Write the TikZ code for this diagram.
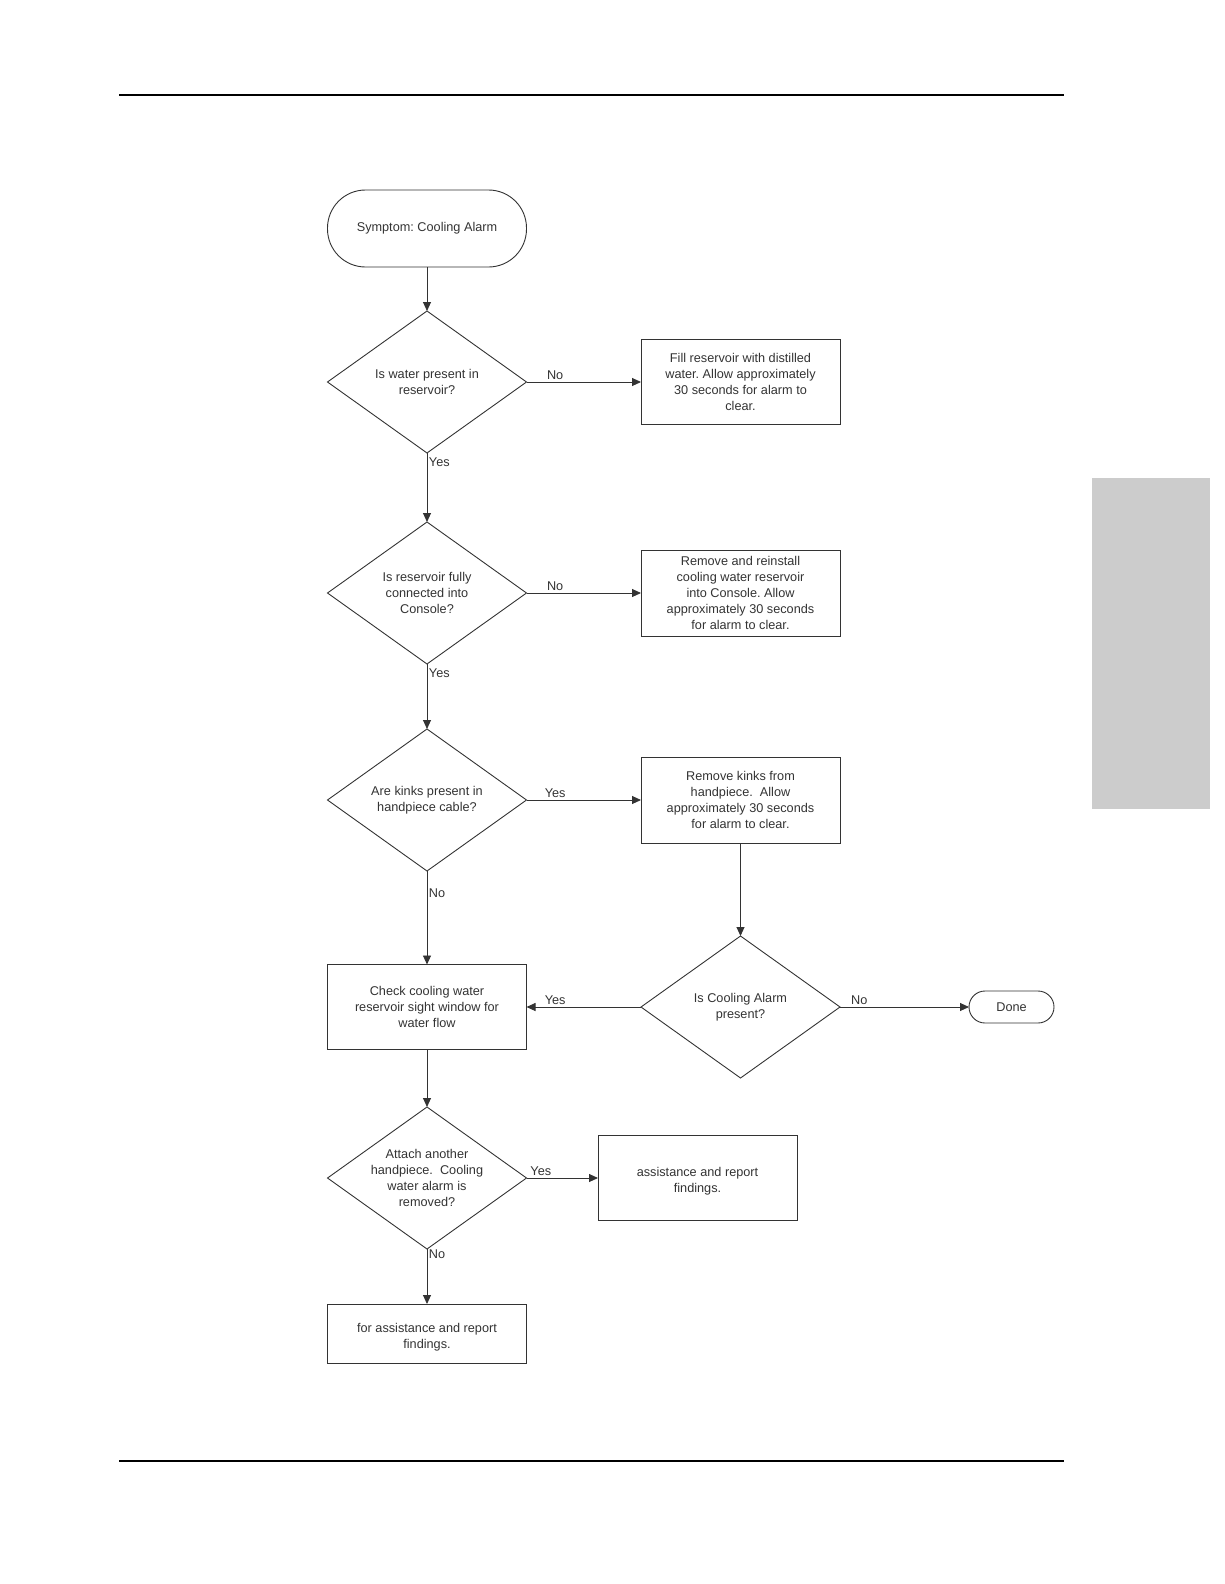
\documentclass[tikz,border=0pt]{standalone}
\usepackage{fontspec}
\setmainfont{Liberation Sans}
\usetikzlibrary{shapes.geometric,arrows.meta,positioning}

\definecolor{ink}{HTML}{333333}
\definecolor{tabgray}{HTML}{CCCCCC}
\newcommand\flowfont{\fontsize{12.7}{16}\selectfont\frenchspacing}

\tikzset{%
  flow shape/.style={
    draw=ink,
    line width=0.9pt,
    text=ink,
    font=\flowfont,
    align=center,
    inner sep=0pt,
    outer sep=0pt
  },
  flow box/.style={
    flow shape,
    rectangle,
    minimum width=199pt,
    minimum height=85pt
  },
  flow decision/.style={
    flow shape,
    diamond,
    aspect=1.4,
    minimum width=199pt,
    minimum height=142pt
  },
  flow terminal/.style={
    flow shape,
    rectangle
  },
  flow label/.style={
    text=ink,
    font=\flowfont,
    inner sep=1.5pt
  },
  flow line/.style={
    draw=ink,
    line width=0.9pt,
    ->
  },
}

\begin{document}
\begin{tikzpicture}[x=1pt, y=-1pt, >={Triangle[length=9pt, width=8pt]}]

\useasboundingbox (0,0) rectangle (1224,1584);

% page rules and side tab
\foreach \y in {95,1461}
  \draw [line width=1.2pt] (119,\y) -- (1064,\y);
\fill [tabgray] (1092,478) rectangle (1210,809);

% start
\node [flow terminal, minimum width=199pt, minimum height=77pt,
  rounded corners=38pt] (start) at (427,228.5) {Symptom: Cooling Alarm};

% left column questions
\foreach \t/\y [count=\i] in {%
    {Is water present in\\reservoir?}/382,
    {Is reservoir fully\\connected into\\Console?}/593,
    {Are kinks present in\\handpiece cable?}/800}
  \node [flow decision] (decision-\i) at (427,\y) {\t};

% right column actions
\foreach \t/\y/\h [count=\i] in {%
    {Fill reservoir with distilled\\water. Allow approximately\\30 seconds for alarm to\\clear.}/382/85,
    {Remove and reinstall\\cooling water reservoir\\into Console. Allow\\approximately 30 seconds\\for alarm to clear.}/593/86,
    {Remove kinks from\\handpiece.\ \ Allow\\approximately 30 seconds\\for alarm to clear.}/800/86}
  \node [flow box, minimum height=\h pt] (action-\i) at (740.5,\y) {\t};

\node [flow decision] (decision-4) at (740.5,1007) {Is Cooling Alarm\\present?};
\node [flow terminal, minimum width=85pt, minimum height=32pt,
  rounded corners=16pt] (done) at (1011.5,1007) {Done};
\node [flow box] (check) at (427,1007)
  {Check cooling water\\reservoir sight window for\\water flow};
\node [flow decision] (decision-5) at (427,1178)
  {Attach another\\handpiece.\ \ Cooling\\water alarm is\\removed?};
\node [flow box] (assist-yes) at (697.5,1178) {\mbox{}\\assistance and report\\findings.};
\node [flow box, minimum height=59pt] (assist-no) at (427,1333.5)
  {\mbox{}\\for assistance and report\\findings.};

% connectors
\draw [flow line] (start.south) -- (decision-1.north);

\foreach \i in {1,2}
  \draw [flow line] (decision-\i) -- (action-\i)
    node [flow label, above, pos=0.25] {No};
\draw [flow line] (decision-3) -- (action-3)
  node [flow label, above, pos=0.25] {Yes};

\foreach \i/\j in {1/2,2/3}
  \draw [flow line] (decision-\i.south) -- (decision-\j.north)
    node [flow label, right, pos=0.14] {Yes};

\draw [flow line] (decision-3.south) -- (check.north)
  node [flow label, right, pos=0.24] {No};
\draw [flow line] (action-3.south) -- (decision-4.north);
\draw [flow line] (decision-4) -- (check)
  node [flow label, above, pos=0.75] {Yes};
\draw [flow line] (decision-4) -- (done)
  node [flow label, above, pos=0.15] {No};
\draw [flow line] (check.south) -- (decision-5.north);
\draw [flow line] (decision-5) -- (assist-yes)
  node [flow label, above, pos=0.2] {Yes};
\draw [flow line] (decision-5.south) -- (assist-no.north)
  node [flow label, right, pos=0.1] {No};

\end{tikzpicture}
\end{document}
